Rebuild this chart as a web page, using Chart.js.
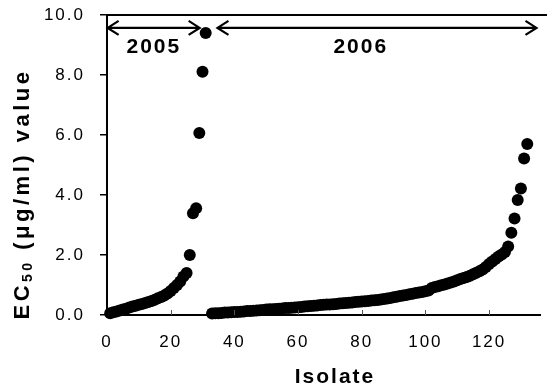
<!DOCTYPE html>
<html>
<head>
<meta charset="utf-8">
<script src="https://cdn.jsdelivr.net/npm/chart.js@4"></script>
<style>
  html, body { margin: 0; padding: 0; background: #fff; }
  #wrap { width: 547px; height: 390px; position: relative; }
</style>
</head>
<body>
<div id="wrap"><canvas id="c" width="547" height="390"></canvas></div>
<script>
// ---- data ----
const isolates2005 = [1,2,3,4,5,6,7,8,9,10,11,12,13,14,15,16,17,18,19,20,21,22,23,24,25,26,27,28,29,30,31];
const ec50_2005 = [0.06,0.09,0.12,0.15,0.18,0.21,0.25,0.28,0.31,0.34,
                   0.37,0.40,0.43,0.47,0.51,0.56,0.60,0.65,0.72,0.80,
                   0.90,1.00,1.12,1.28,1.40,2.00,3.39,3.56,6.07,8.11,9.40];

const isolates2006 = [33,34,35,36,37,38,39,40,41,42,
                      43,44,45,46,47,48,49,50,51,52,
                      53,54,55,56,57,58,59,60,61,62,
                      63,64,65,66,67,68,69,70,71,72,
                      73,74,75,76,77,78,79,80,81,82,
                      83,84,85,86,87,88,89,90,91,92,
                      93,94,95,96,97,98,99,100,101,102,
                      103,104,105,106,107,108,109,110,111,112,
                      113,114,115,116,117,118,119,120,121,122,
                      123,124,125,126,127,128,129,130,131,132];
const ec50_2006 = [0.05,0.06,0.06,0.07,0.08,0.08,0.09,0.10,0.10,0.11,
                   0.12,0.13,0.13,0.14,0.15,0.16,0.17,0.18,0.19,0.19,
                   0.20,0.21,0.22,0.23,0.23,0.24,0.25,0.26,0.27,0.28,
                   0.29,0.30,0.31,0.32,0.33,0.34,0.35,0.35,0.36,0.37,
                   0.38,0.39,0.40,0.41,0.42,0.43,0.44,0.45,0.46,0.47,
                   0.48,0.49,0.50,0.52,0.53,0.55,0.57,0.59,0.61,0.63,
                   0.65,0.67,0.69,0.71,0.73,0.75,0.77,0.79,0.82,0.90,
                   0.93,0.96,0.99,1.02,1.05,1.08,1.12,1.16,1.20,1.23,
                   1.27,1.31,1.36,1.41,1.46,1.52,1.60,1.70,1.78,1.87,
                   1.95,2.02,2.10,2.28,2.74,3.22,3.83,4.22,5.22,5.70];

const xTickValues = [0,20,40,60,80,100,120];
const yTickValues = [0,2,4,6,8,10];
const yearLabels = ['2005','2006'];

// ---- build chart ----
const FONT = "'Liberation Sans', Arial, sans-serif";
const toPts = (xs, ys) => xs.map((x, i) => ({x: x, y: ys[i]}));

const overlay = {
  id: 'overlay',
  beforeDraw(chart) { chart.ctx.letterSpacing = '2px'; },
  afterDraw(chart) {
    const ctx = chart.ctx;
    const xs = chart.scales.x, ys = chart.scales.y;
    const area = chart.chartArea;
    ctx.save();
    ctx.letterSpacing = '2px';
    ctx.strokeStyle = '#000';
    ctx.fillStyle = '#000';
    // top frame line
    ctx.lineWidth = 2;
    ctx.beginPath();
    ctx.moveTo(area.left - 1, area.top);
    ctx.lineTo(chart.width, area.top);
    ctx.stroke();
    // inward x ticks
    ctx.lineWidth = 1;
    ctx.strokeStyle = '#555';
    xTickValues.slice(1).forEach(v => {
      const px = Math.round(xs.getPixelForValue(v)) + 0.5;
      ctx.beginPath();
      ctx.moveTo(px, area.bottom);
      ctx.lineTo(px, area.bottom - 5);
      ctx.stroke();
    });
    // arrows
    ctx.strokeStyle = '#000';
    ctx.lineWidth = 2.2;
    const arrowY = ys.getPixelForValue(9.57);
    const arrow = (x0, x1) => {
      const a = xs.getPixelForValue(x0), b = xs.getPixelForValue(x1);
      ctx.beginPath();
      ctx.moveTo(a, arrowY); ctx.lineTo(b, arrowY);
      ctx.moveTo(a + 11, arrowY - 7); ctx.lineTo(a, arrowY); ctx.lineTo(a + 11, arrowY + 7);
      ctx.moveTo(b - 11, arrowY - 7); ctx.lineTo(b, arrowY); ctx.lineTo(b - 11, arrowY + 7);
      ctx.stroke();
    };
    arrow(0.2, 29.1);
    arrow(34.7, 134.9);
    // year labels
    ctx.font = 'bold 21px ' + FONT;
    ctx.textAlign = 'center';
    ctx.textBaseline = 'middle';
    const labY = ys.getPixelForValue(8.93);
    ctx.fillText(yearLabels[0], xs.getPixelForValue(14.4) + 1, labY);
    ctx.fillText(yearLabels[1], xs.getPixelForValue(79.4) + 1, labY);
    // x title
    ctx.font = 'bold 21px ' + FONT;
    ctx.fillText('Isolate', 335, 377);
    // y title with subscript
    ctx.letterSpacing = '3.5px';
    ctx.translate(23, 194);
    ctx.rotate(-Math.PI / 2);
    ctx.textAlign = 'left';
    ctx.textBaseline = 'middle';
    const big = 'bold 22px ' + FONT, small = 'bold 14px ' + FONT;
    const parts = [['EC', big, 0], ['50', small, 5], [' (\u03bcg/ml) value', big, 0]];
    let total = 0;
    parts.forEach(p => { ctx.font = p[1]; total += ctx.measureText(p[0]).width; });
    let cx = -total / 2;
    parts.forEach(p => {
      ctx.font = p[1];
      ctx.fillText(p[0], cx, p[2]);
      cx += ctx.measureText(p[0]).width;
    });
    ctx.restore();
  }
};

new Chart(document.getElementById('c'), {
  type: 'scatter',
  data: {
    datasets: [
      { label: '2005', data: toPts(isolates2005, ec50_2005), backgroundColor: '#000', borderColor: '#000',
        pointRadius: 6, borderWidth: 0, clip: false },
      { label: '2006', data: toPts(isolates2006, ec50_2006), backgroundColor: '#000', borderColor: '#000',
        pointRadius: 6, borderWidth: 0, clip: false }
    ]
  },
  options: {
    responsive: false,
    animation: false,
    devicePixelRatio: 1,
    layout: { padding: { top: 15, right: 7, left: 0, bottom: 0 } },
    plugins: { legend: { display: false }, tooltip: { enabled: false }, title: { display: false } },
    scales: {
      x: {
        type: 'linear', min: 0, max: 136,
        afterFit(s) { s.height = 75; s.paddingLeft = 0; s.paddingRight = 0; },
        afterBuildTicks(s) { s.ticks = xTickValues.map(v => ({value: v})); },
        grid: { drawOnChartArea: false, drawTicks: false },
        border: { display: true, color: '#000', width: 2 },
        ticks: { color: '#000', font: { family: FONT, size: 17 }, padding: 17, maxRotation: 0,
                 callback: v => String(v) }
      },
      y: {
        type: 'linear', min: 0, max: 10,
        afterFit(s) { s.width = 107; s.paddingTop = 0; s.paddingBottom = 0; },
        afterBuildTicks(s) { s.ticks = yTickValues.map(v => ({value: v})); },
        grid: { drawOnChartArea: false, drawTicks: true, tickLength: 7, color: '#000', lineWidth: 1.5 },
        border: { display: true, color: '#000', width: 2 },
        ticks: { color: '#000', font: { family: FONT, size: 17 }, padding: 15,
                 callback: v => Number(v).toFixed(1) }
      }
    }
  },
  plugins: [overlay]
});
</script>
</body>
</html>
